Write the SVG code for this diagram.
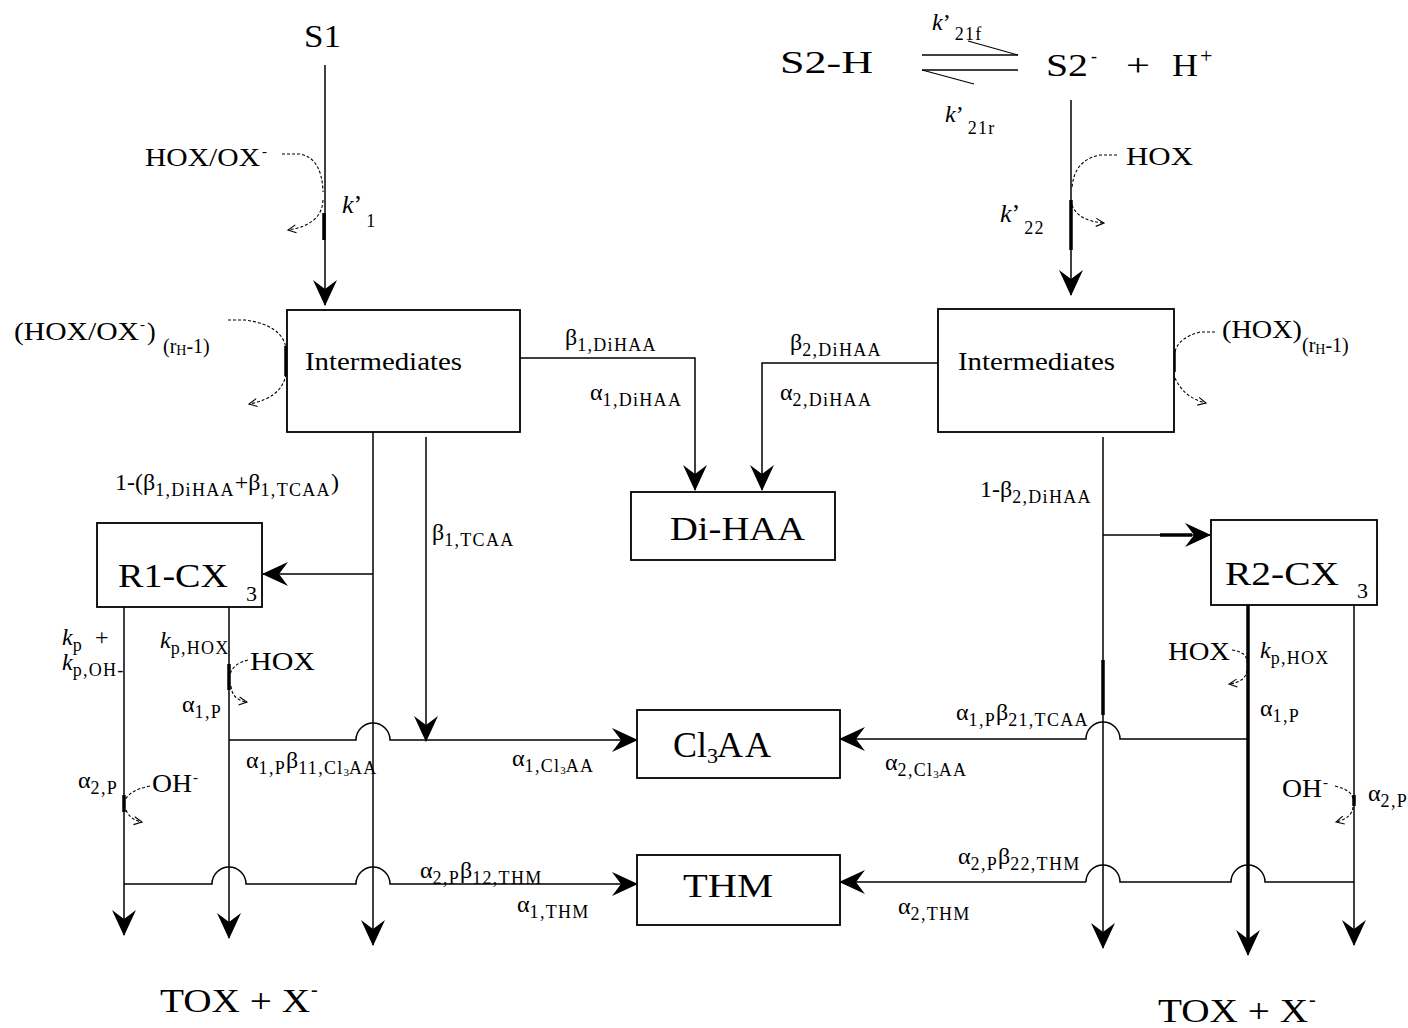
<svg xmlns="http://www.w3.org/2000/svg" width="1408" height="1028" viewBox="0 0 1408 1028">
<style>
text{font-family:"Liberation Serif","Times New Roman",serif;fill:#000}
.big{font-size:32px}
.nd{font-size:34px}
.md{font-size:26px}
.lb{font-size:24px}
.s{font-size:18px;letter-spacing:1.3px}
.it{font-style:italic}
.box{fill:#fff;stroke:#000;stroke-width:1.8}
.ln{fill:none;stroke:#000;stroke-width:1.5}
.tk{fill:none;stroke:#000;stroke-width:3.5}
.hp{fill:none;stroke:#000;stroke-width:1.2}
.ds{fill:none;stroke:#000;stroke-width:1.1;stroke-dasharray:3 2}
</style>
<defs>
<marker id="ah" markerUnits="userSpaceOnUse" markerWidth="26" markerHeight="26" viewBox="0 0 26 26" refX="25" refY="13" orient="auto">
<path d="M0,1 L26,13 L0,25 L9,13 Z" fill="#000"/>
</marker>
<marker id="sa" markerUnits="userSpaceOnUse" markerWidth="10" markerHeight="10" viewBox="0 0 10 10" refX="9" refY="5" orient="auto">
<path d="M1,1 L9,5 L1,9" fill="none" stroke="#000" stroke-width="1.1"/>
</marker>
</defs>
<rect x="0" y="0" width="1408" height="1028" fill="#fff"/>

<g id="connectors">
  <path class="ln" d="M325,65 V305" marker-end="url(#ah)"/>
  <path class="tk" d="M324,213 V240" stroke-width="3"/>
  <path class="ln" d="M1071,100 V295" marker-end="url(#ah)"/>
  <path class="tk" d="M1071,200 V250" stroke-width="3"/>
  <path class="ln" d="M922,55 H1018"/>
  <path class="hp" d="M1018,55 L968,41"/>
  <path class="ln" d="M922,70 H1018"/>
  <path class="hp" d="M922,70 L974,84"/>
  <path class="ln" d="M520,358 H695 V490" marker-end="url(#ah)"/>
  <path class="ln" d="M938,363 H762 V490" marker-end="url(#ah)"/>
  <path class="ln" d="M373,432 V945" marker-end="url(#ah)"/>
  <path class="ln" d="M426,437 V741" marker-end="url(#ah)"/>
  <path class="ln" d="M373,574 H263" marker-end="url(#ah)"/>
  <path class="ln" d="M124,607 V935" marker-end="url(#ah)"/>
  <path class="ln" d="M229,607 V938" marker-end="url(#ah)"/>
  <path class="tk" d="M229,664 V690" stroke-width="3"/>
  <path class="tk" d="M124,795 V812" stroke-width="3"/>
  <path class="ln" d="M229,740 H356 A17,17 0 0 1 390,740 H637" marker-end="url(#ah)"/>
  <path class="ln" d="M124,884 H212 A17,17 0 0 1 246,884 H356 A17,17 0 0 1 390,884 H637" marker-end="url(#ah)"/>
  <path class="ln" d="M1103,437 V948" marker-end="url(#ah)"/>
  <path class="tk" d="M1103,660 V715" stroke-width="3"/>
  <path class="ln" d="M1103,535 H1210" marker-end="url(#ah)"/>
  <path class="tk" d="M1160,535 H1192" stroke-width="3"/>
  <path class="tk" d="M1248,605 V945"/>
  <path class="ln" d="M1248,935 V955" marker-end="url(#ah)"/>
  <path class="ln" d="M1354,605 V945" marker-end="url(#ah)"/>
  <path class="tk" d="M1354,795 V806" stroke-width="3"/>
  <path class="ln" d="M1248,739 H1120 A17,17 0 0 0 1086,739 H840" marker-end="url(#ah)"/>
  <path class="ln" d="M1354,882 H1265 A17,17 0 0 0 1231,882 H1120 A17,17 0 0 0 1086,882"/>
  <path class="ln" d="M1086,882 H840" stroke-width="3" marker-end="url(#ah)"/>
  <path class="ds" d="M282,154 H300 Q322,158 323,192"/>
  <path class="ds" d="M323,200 Q322,225 288,230" marker-end="url(#sa)"/>
  <path class="ds" d="M1117,155 H1100 Q1074,160 1072,188"/>
  <path class="ds" d="M1072,205 Q1078,221 1104,223" marker-end="url(#sa)"/>
  <path class="ds" d="M228,320 H245 Q282,325 286,348"/>
  <path class="ds" d="M286,374 Q282,398 249,404" marker-end="url(#sa)"/>
  <path class="tk" d="M286,346 V376" stroke-width="3"/>
  <path class="ds" d="M1215,332 H1200 Q1178,338 1175,352"/>
  <path class="ds" d="M1175,378 Q1184,398 1206,403" marker-end="url(#sa)"/>
  <path class="tk" d="M1174,350 V372" stroke-width="3"/>
  <path class="ds" d="M248,660 Q232,664 230,675"/>
  <path class="ds" d="M231,686 Q232,700 247,702" marker-end="url(#sa)"/>
  <path class="ds" d="M150,786 Q130,790 125,800"/>
  <path class="ds" d="M126,810 Q130,820 142,822" marker-end="url(#sa)"/>
  <path class="ds" d="M1232,650 Q1247,652 1247,662"/>
  <path class="ds" d="M1247,670 Q1246,682 1229,684" marker-end="url(#sa)"/>
  <path class="ds" d="M1335,786 Q1352,790 1353,799"/>
  <path class="ds" d="M1353,807 Q1352,818 1336,822" marker-end="url(#sa)"/>
</g>

<g id="n-s1"><text x="304" y="47" class="big" textLength="37" lengthAdjust="spacingAndGlyphs">S1</text></g>
<g id="n-s2h"><text x="780" y="73" class="big" textLength="93" lengthAdjust="spacingAndGlyphs">S2-H</text></g>
<g id="n-s2">
  <text x="1046" y="76" class="big" textLength="42" lengthAdjust="spacingAndGlyphs">S2</text><text x="1091" y="62" font-size="18">-</text>
  <text x="1126" y="76" class="big" textLength="24" lengthAdjust="spacingAndGlyphs">+</text>
  <text x="1172" y="76" class="big" textLength="26" lengthAdjust="spacingAndGlyphs">H</text><text x="1200" y="63" font-size="22">+</text>
</g>
<g id="n-int1"><rect class="box" x="287" y="310" width="233" height="122"/><text x="305" y="370" font-size="25" textLength="157" lengthAdjust="spacingAndGlyphs">Intermediates</text></g>
<g id="n-int2"><rect class="box" x="938" y="309" width="236" height="123"/><text x="958" y="370" font-size="25" textLength="157" lengthAdjust="spacingAndGlyphs">Intermediates</text></g>
<g id="n-dihaa"><rect class="box" x="631" y="492" width="204" height="68"/><text x="670" y="540" class="nd" textLength="135" lengthAdjust="spacingAndGlyphs">Di-HAA</text></g>
<g id="n-r1"><rect class="box" x="97" y="523" width="165" height="84"/><text x="118" y="587" class="nd" textLength="110" lengthAdjust="spacingAndGlyphs">R1-CX</text><text x="246" y="601" font-size="22">3</text></g>
<g id="n-r2"><rect class="box" x="1211" y="520" width="166" height="85"/><text x="1225" y="585" class="nd" textLength="114" lengthAdjust="spacingAndGlyphs">R2-CX</text><text x="1357" y="598" font-size="22">3</text></g>
<g id="n-cl3aa"><rect class="box" x="637" y="710" width="203" height="68"/><text x="673" y="757" font-size="36">Cl<tspan font-size="22" dy="6">3</tspan><tspan dy="-6" dx="-1" letter-spacing="2">AA</tspan></text></g>
<g id="n-thm"><rect class="box" x="637" y="855" width="203" height="70"/><text x="683" y="897" class="nd" textLength="90" lengthAdjust="spacingAndGlyphs">THM</text></g>
<g id="n-tox1"><text x="160" y="1012" class="nd" textLength="150" lengthAdjust="spacingAndGlyphs">TOX + X</text><text x="311" y="996" font-size="20">-</text></g>
<g id="n-tox2"><text x="1158" y="1022" class="nd" textLength="150" lengthAdjust="spacingAndGlyphs">TOX + X</text><text x="1309" y="1006" font-size="20">-</text></g>

<g id="labels">
  <text x="145" y="166" class="md" textLength="115" lengthAdjust="spacingAndGlyphs">HOX/OX</text><text x="262" y="156" font-size="15">-</text>
  <text x="342" y="213" font-size="26"><tspan class="it">k</tspan>’<tspan class="s" dy="14" dx="4">1</tspan></text>
  <text x="932" y="30" font-size="24"><tspan class="it">k</tspan>’<tspan class="s" dy="10" dx="4">21f</tspan></text>
  <text x="945" y="122" font-size="24"><tspan class="it">k</tspan>’<tspan class="s" dy="12" dx="4">21r</tspan></text>
  <text x="1126" y="165" class="md" textLength="67" lengthAdjust="spacingAndGlyphs">HOX</text>
  <text x="1000" y="222" font-size="26"><tspan class="it">k</tspan>’<tspan class="s" dy="12" dx="4">22</tspan></text>
  <text x="14" y="340" class="md" textLength="125" lengthAdjust="spacingAndGlyphs">(HOX/OX</text><text x="140" y="329" font-size="15">-</text><text x="147" y="340" class="md">)</text>
  <text x="163" y="353" font-size="20">(r<tspan font-size="14" dy="2">H</tspan><tspan dy="-2">-1)</tspan></text>
  <text x="1222" y="338" class="md" textLength="80" lengthAdjust="spacingAndGlyphs">(HOX)</text>
  <text x="1302" y="352" font-size="20">(r<tspan font-size="14" dy="2">H</tspan><tspan dy="-2">-1)</tspan></text>
  <text x="565" y="345" class="lb">β<tspan class="s" dy="6">1,DiHAA</tspan></text>
  <text x="590" y="400" class="lb">α<tspan class="s" dy="6">1,DiHAA</tspan></text>
  <text x="790" y="350" class="lb">β<tspan class="s" dy="6">2,DiHAA</tspan></text>
  <text x="780" y="400" class="lb">α<tspan class="s" dy="6">2,DiHAA</tspan></text>
  <text x="115" y="490" class="lb">1-(β<tspan class="s" dy="6">1,DiHAA</tspan><tspan dy="-6">+β</tspan><tspan class="s" dy="6">1,TCAA</tspan><tspan dy="-6">)</tspan></text>
  <text x="432" y="540" class="lb">β<tspan class="s" dy="6">1,TCAA</tspan></text>
  <text x="980" y="497" class="lb">1-β<tspan class="s" dy="6">2,DiHAA</tspan></text>
  <text x="62" y="645" class="lb"><tspan class="it">k</tspan><tspan class="s" dy="6">p</tspan><tspan dy="-6" dx="12">+</tspan></text>
  <text x="62" y="670" class="lb"><tspan class="it">k</tspan><tspan class="s" dy="6">p,OH-</tspan></text>
  <text x="160" y="648" class="lb"><tspan class="it">k</tspan><tspan class="s" dy="6">p,HOX</tspan></text>
  <text x="250" y="670" class="md" textLength="65" lengthAdjust="spacingAndGlyphs">HOX</text>
  <text x="182" y="712" class="lb">α<tspan class="s" dy="6">1,P</tspan></text>
  <text x="246" y="768" class="lb">α<tspan class="s" dy="6">1,P</tspan><tspan dy="-6">β</tspan><tspan class="s" dy="6" letter-spacing="0.6">11,Cl</tspan><tspan font-size="11" dy="2">3</tspan><tspan class="s" dy="-2" letter-spacing="0.6">AA</tspan></text>
  <text x="512" y="766" class="lb">α<tspan class="s" dy="6">1,Cl</tspan><tspan font-size="11" dy="2">3</tspan><tspan class="s" dy="-2">AA</tspan></text>
  <text x="78" y="788" class="lb">α<tspan class="s" dy="6">2,P</tspan></text>
  <text x="152" y="792" class="md" textLength="40" lengthAdjust="spacingAndGlyphs">OH</text><text x="193" y="782" font-size="15">-</text>
  <text x="420" y="878" class="lb">α<tspan class="s" dy="6">2,P</tspan><tspan dy="-6">β</tspan><tspan class="s" dy="6">12,THM</tspan></text>
  <text x="517" y="912" class="lb">α<tspan class="s" dy="6">1,THM</tspan></text>
  <text x="1168" y="660" class="md" textLength="62" lengthAdjust="spacingAndGlyphs">HOX</text>
  <text x="1260" y="658" class="lb"><tspan class="it">k</tspan><tspan class="s" dy="6">p,HOX</tspan></text>
  <text x="1260" y="716" class="lb">α<tspan class="s" dy="6">1,P</tspan></text>
  <text x="956" y="720" class="lb">α<tspan class="s" dy="6">1,P</tspan><tspan dy="-6">β</tspan><tspan class="s" dy="6" letter-spacing="0.6">21,TCAA</tspan></text>
  <text x="885" y="770" class="lb">α<tspan class="s" dy="6">2,Cl</tspan><tspan font-size="11" dy="2">3</tspan><tspan class="s" dy="-2">AA</tspan></text>
  <text x="1282" y="797" class="md" textLength="40" lengthAdjust="spacingAndGlyphs">OH</text><text x="1323" y="787" font-size="15">-</text>
  <text x="1368" y="801" class="lb">α<tspan class="s" dy="6">2,P</tspan></text>
  <text x="958" y="864" class="lb">α<tspan class="s" dy="6">2,P</tspan><tspan dy="-6">β</tspan><tspan class="s" dy="6">22,THM</tspan></text>
  <text x="898" y="914" class="lb">α<tspan class="s" dy="6">2,THM</tspan></text>
</g>
</svg>
